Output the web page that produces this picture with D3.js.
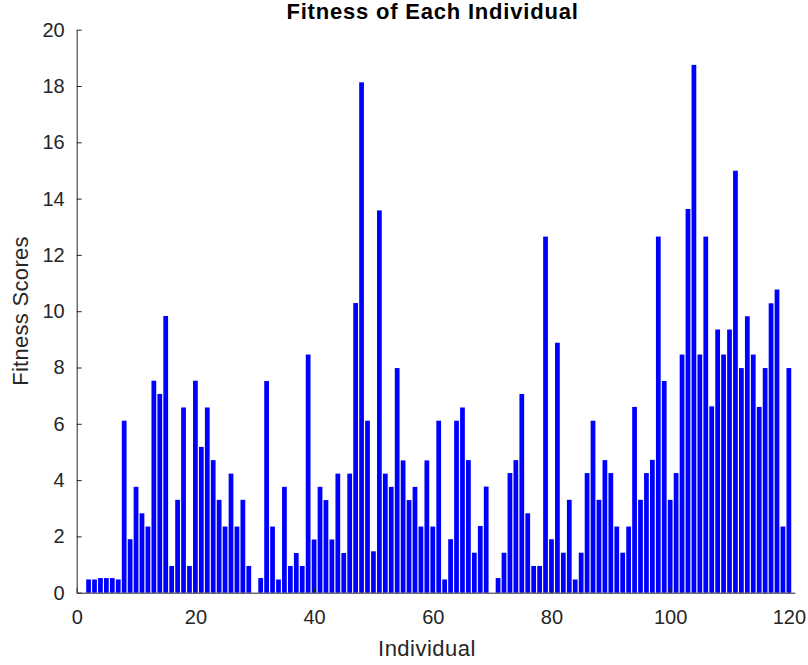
<!DOCTYPE html>
<html>
<head>
<meta charset="utf-8">
<script src="https://cdn.jsdelivr.net/npm/d3@7"></script>
<style>
  html, body { margin: 0; padding: 0; background: #fff; }
  svg { display: block; }
  text { font-family: "Liberation Sans", Arial, sans-serif; }
</style>
</head>
<body>
<script>
// Fitness score of each individual in the population
const individuals = d3.range(1, 121);
const fitness = [
  0, 0.47, 0.47, 0.52, 0.52, 0.52, 0.47, 6.11, 1.90, 3.76,
  2.82, 2.35, 7.53, 7.06, 9.83, 0.95, 3.30, 6.58, 0.95, 7.53,
  5.18, 6.58, 4.71, 3.30, 2.35, 4.23, 2.35, 3.30, 0.95, 0,
  0.52, 7.52, 2.35, 0.47, 3.76, 0.95, 1.41, 0.95, 8.46, 1.89,
  3.76, 3.29, 1.89, 4.23, 1.41, 4.23, 10.29, 18.13, 6.11, 1.47,
  13.58, 4.23, 3.76, 7.98, 4.70, 3.29, 3.76, 2.35, 4.70, 2.35,
  6.11, 0.47, 1.90, 6.11, 6.58, 4.71, 1.42, 2.37, 3.77, 0,
  0.52, 1.42, 4.25, 4.71, 7.06, 2.82, 0.95, 0.95, 12.65, 1.90,
  8.88, 1.42, 3.30, 0.47, 1.42, 4.25, 6.11, 3.30, 4.71, 4.25,
  2.35, 1.42, 2.35, 6.60, 3.30, 4.25, 4.72, 12.65, 7.52, 3.30,
  4.25, 8.46, 13.63, 18.75, 8.46, 12.65, 6.62, 9.35, 8.46, 9.35,
  14.99, 7.98, 9.82, 8.46, 6.60, 7.98, 10.28, 10.77, 2.35, 7.98
];
const xTicks = [0, 20, 40, 60, 80, 100, 120];
const yTicks = [0, 2, 4, 6, 8, 10, 12, 14, 16, 18, 20];

(function () {
  const W = 808, H = 665;
  const plotL = 76.7, plotR = 794.8, plotT = 29.7, plotB = 592.7;
  const ink = "#262626";

  const svg = d3.select("body").append("svg")
    .attr("width", W).attr("height", H);

  const x = d3.scaleLinear().domain([0, 121]).range([plotL, plotR]);
  const y = d3.scaleLinear().domain([0, 20]).range([plotB, plotT]);
  const bw = (x(1) - x(0)) * 0.8;

  // bars
  svg.append("g")
    .selectAll("rect")
    .data(individuals.map((d, i) => ({ id: d, v: fitness[i] })))
    .join("rect")
    .attr("x", d => x(d.id) - bw / 2)
    .attr("y", d => y(d.v))
    .attr("width", bw)
    .attr("height", d => y(0) - y(d.v))
    .attr("fill", "#0000ff");

  // axes with inward ticks
  const xAxis = svg.append("g")
    .attr("transform", `translate(0,${plotB})`)
    .call(d3.axisBottom(x).tickValues(xTicks).tickSizeInner(-5).tickSizeOuter(0).tickPadding(17));

  const yAxis = svg.append("g")
    .attr("transform", `translate(${plotL},0)`)
    .call(d3.axisLeft(y).tickValues(yTicks).tickSizeInner(-5).tickSizeOuter(0).tickPadding(12));

  [xAxis, yAxis].forEach(g => {
    g.select(".domain").attr("stroke", ink).attr("stroke-width", 1);
    g.selectAll(".tick line").attr("stroke", ink).attr("stroke-width", 1);
    g.selectAll(".tick text")
      .attr("fill", ink)
      .style("font-size", "20px")
      .style("font-family", "'Liberation Sans', Arial, sans-serif");
  });

  // title
  svg.append("text")
    .attr("x", 432.5).attr("y", 18.5)
    .attr("text-anchor", "middle")
    .style("font-size", "22px")
    .style("font-weight", "bold")
    .style("letter-spacing", "0.8px")
    .attr("fill", "#000")
    .text("Fitness of Each Individual");

  // axis labels
  svg.append("text")
    .attr("x", 427).attr("y", 656)
    .attr("text-anchor", "middle")
    .style("font-size", "22px")
    .style("letter-spacing", "0.5px")
    .attr("fill", ink)
    .text("Individual");

  svg.append("text")
    .attr("transform", "translate(27.5,311) rotate(-90)")
    .attr("text-anchor", "middle")
    .style("font-size", "22px")
    .style("letter-spacing", "0.3px")
    .attr("fill", ink)
    .text("Fitness Scores");
})();
</script>
</body>
</html>
